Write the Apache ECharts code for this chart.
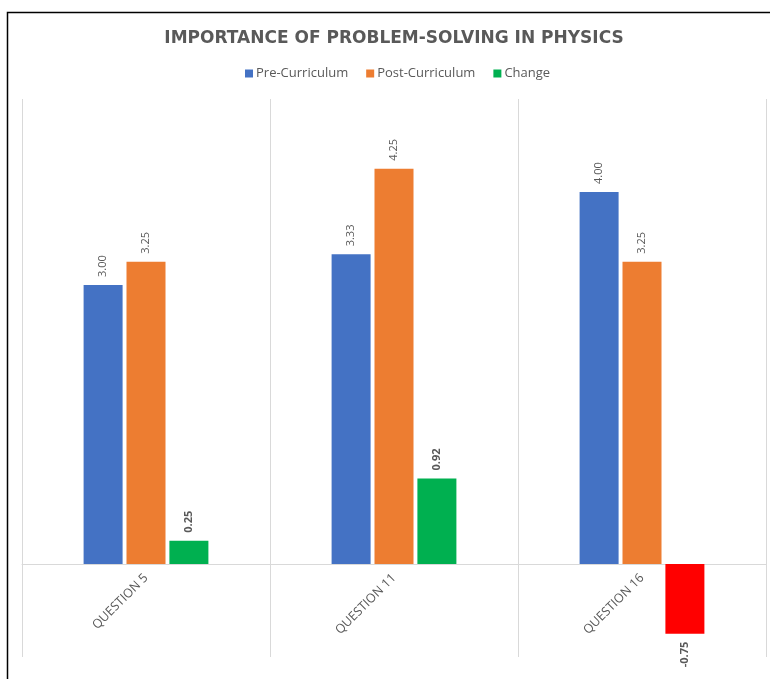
<!DOCTYPE html>
<html>
<head>
<meta charset="utf-8">
<script src="https://cdn.jsdelivr.net/npm/echarts@6/dist/echarts.min.js"></script>
<style>
  html, body { margin: 0; padding: 0; background: #fff; overflow: hidden; }
  #chart { width: 788px; height: 679px; }
</style>
</head>
<body>
<div id="chart"></div>
<script>
// Survey averages per question, before and after the curriculum
const categories = ['QUESTION 5', 'QUESTION 11', 'QUESTION 16'];
const preCurriculum = [3.00, 3.33, 4.00];
const postCurriculum = [3.25, 4.25, 3.25];
const change = [0.25, 0.92, -0.75];

const FONT = 'Open Sans';
const GREY = '#595959';

// plot box and value range; the category axis sits on the zero line
const GRID_TOP = 99, GRID_BOTTOM = 22, CHART_H = 679;
const Y_MIN = -1, Y_MAX = 5;
const plotH = CHART_H - GRID_TOP - GRID_BOTTOM;
const zeroOffset = -plotH * (0 - Y_MIN) / (Y_MAX - Y_MIN);

const labelTop = {
  show: true,
  position: 'top',
  rotate: 90,
  align: 'left',
  verticalAlign: 'middle',
  distance: 8,
  color: GREY,
  fontSize: 11,
  fontFamily: FONT,
  formatter: p => p.value.toFixed(2)
};

const changeData = change.map(v => v < 0
  ? {
      value: v,
      itemStyle: { color: '#FF0000' },
      label: { position: 'bottom', align: 'right', verticalAlign: 'middle' }
    }
  : { value: v });

const chart = echarts.init(document.getElementById('chart'), null, { renderer: 'canvas' });
chart.setOption({
  animation: false,
  backgroundColor: '#fff',
  title: {
    text: 'IMPORTANCE OF PROBLEM-SOLVING IN PHYSICS',
    left: 'center',
    top: 25,
    textStyle: { color: GREY, fontSize: 17, fontWeight: 'bold', fontFamily: 'DejaVu Sans' }
  },
  legend: {
    top: 62,
    left: 240,
    itemWidth: 8,
    itemHeight: 8,
    itemGap: 18,
    icon: 'rect',
    textStyle: { color: GREY, fontSize: 13, fontFamily: FONT, padding: [0, 0, 0, -2] },
    data: ['Pre-Curriculum', 'Post-Curriculum', 'Change']
  },
  grid: { left: 22, right: 22, top: GRID_TOP, bottom: GRID_BOTTOM, containLabel: false, outerBoundsMode: 'none' },
  xAxis: {
    type: 'category',
    data: categories,
    position: 'bottom',
    offset: zeroOffset,
    axisTick: { show: false },
    axisLine: { show: true, onZero: false, lineStyle: { color: '#d9d9d9', width: 1 } },
    splitLine: { show: true, lineStyle: { color: '#d9d9d9', width: 1 } },
    axisLabel: { rotate: 45, margin: 12, color: GREY, fontSize: 12.5, fontFamily: FONT }
  },
  yAxis: {
    type: 'value',
    min: Y_MIN,
    max: Y_MAX,
    axisLine: { show: false },
    axisTick: { show: false },
    axisLabel: { show: false },
    splitLine: { show: false }
  },
  series: [
    {
      name: 'Pre-Curriculum', type: 'bar', data: preCurriculum,
      barWidth: 39, barGap: '10%',
      itemStyle: { color: '#4472C4' },
      label: labelTop
    },
    {
      name: 'Post-Curriculum', type: 'bar', data: postCurriculum,
      barWidth: 39, barGap: '10%',
      itemStyle: { color: '#ED7D31' },
      label: labelTop
    },
    {
      name: 'Change', type: 'bar', data: changeData,
      barWidth: 39, barGap: '10%',
      itemStyle: { color: '#00B050' },
      label: Object.assign({}, labelTop, { fontWeight: 'bold' })
    }
  ],
  graphic: [{
    type: 'rect',
    shape: { x: 7.5, y: 12.5, width: 900, height: 900 },
    style: { fill: 'none', stroke: '#000', lineWidth: 1.5 },
    silent: true
  }]
});
</script>
</body>
</html>
